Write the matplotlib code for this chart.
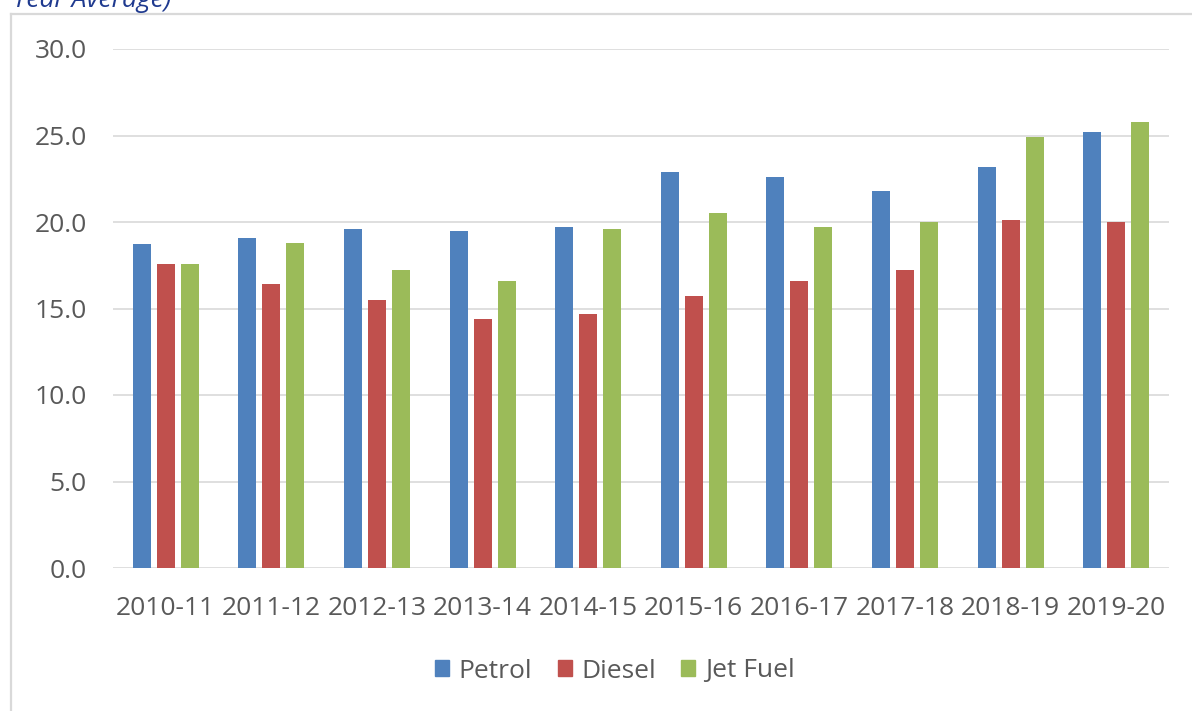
import matplotlib
matplotlib.use("Agg")
import matplotlib.pyplot as plt
from matplotlib.lines import Line2D
from matplotlib.patches import Patch
import numpy as np

# Fuel price data (year average)
years = ["2010-11", "2011-12", "2012-13", "2013-14", "2014-15",
         "2015-16", "2016-17", "2017-18", "2018-19", "2019-20"]
petrol = [18.7, 19.1, 19.6, 19.5, 19.7, 22.9, 22.6, 21.8, 23.2, 25.2]
diesel = [17.6, 16.4, 15.5, 14.4, 14.7, 15.7, 16.6, 17.2, 20.1, 20.0]
jet_fuel = [17.6, 18.8, 17.2, 16.6, 19.6, 20.5, 19.7, 20.0, 24.9, 25.8]
series_names = ["Petrol", "Diesel", "Jet Fuel"]
y_ticks = [0, 5, 10, 15, 20, 25, 30]

colors = ["#4F81BD", "#C0504D", "#9BBB59"]
text_color = "#595959"
grid_color = "#D9D9D9"
font = "Open Sans"
fsize = 19

W, H = 1192, 711
fig = plt.figure(figsize=(W / 100, H / 100), dpi=100)
fig.patch.set_facecolor("white")

def fx(px):
    return px / W

def fy(py):
    return 1 - py / H

# chart frame (left and top edges visible)
fig.add_artist(Line2D([fx(11), fx(11)], [fy(14), fy(H + 5)],
                      transform=fig.transFigure, color=grid_color, lw=1.6))
fig.add_artist(Line2D([fx(11), fx(W + 5)], [fy(14), fy(14)],
                      transform=fig.transFigure, color=grid_color, lw=1.6))

# heading text, partially above the canvas
fig.text(fx(13), fy(7), "Year Average)", family=font, style="italic",
         fontsize=fsize, color="#1F3A8F", ha="left", va="baseline")

left, right, top, bottom = 113, 1169, 49, 568
ax = fig.add_axes([fx(left), fy(bottom), fx(right - left), fy(top) - fy(bottom)])

x = np.arange(len(years))
step = 0.227
bw = 0.171
for k, (vals, name) in enumerate(zip([petrol, diesel, jet_fuel], series_names)):
    ax.bar(x + (k - 1) * step, vals, width=bw, color=colors[k], label=name, zorder=3)

ax.set_xlim(-0.5, len(years) - 0.5)
ax.set_ylim(0, 30)
ax.set_yticks(y_ticks)
ax.set_yticklabels([f"{v:.1f}" for v in y_ticks])
ax.set_xticks(x)
ax.set_xticklabels(years)

for s in ax.spines.values():
    s.set_visible(False)
ax.grid(axis="y", color=grid_color, lw=1.2, zorder=0)
ax.set_axisbelow(True)
ax.tick_params(axis="both", length=0, colors=text_color, labelsize=fsize)
ax.tick_params(axis="y", pad=19)
ax.tick_params(axis="x", pad=20)
for lab in ax.get_xticklabels() + ax.get_yticklabels():
    lab.set_family(font)

handles = [Patch(color=c, label=n) for c, n in zip(colors, series_names)]
leg = fig.legend(handles=handles, loc="center", ncol=3, frameon=False,
                 bbox_to_anchor=(fx(615), fy(671)),
                 prop={"family": font, "size": fsize},
                 handlelength=0.53, handleheight=0.53, handletextpad=0.38,
                 columnspacing=0.95, borderaxespad=0)
for t in leg.get_texts():
    t.set_color(text_color)

fig.savefig("out.png", dpi=100, facecolor="white")
